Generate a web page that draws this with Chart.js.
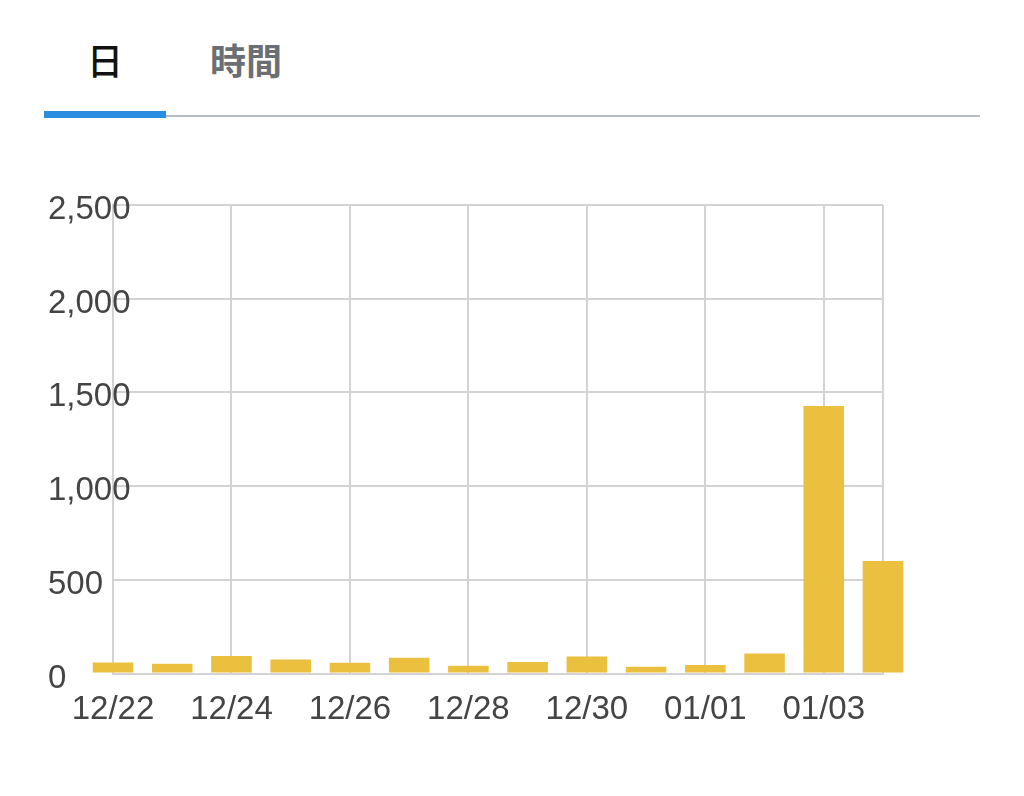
<!DOCTYPE html>
<html>
<head>
<meta charset="utf-8">
<script src="https://cdn.jsdelivr.net/npm/chart.js@4"></script>
<style>
  html, body { margin: 0; padding: 0; background: #ffffff; }
  body { width: 1024px; height: 796px; position: relative; overflow: hidden; }
  .tab { position: absolute; width: 120px; text-align: center; font-family: "Noto Sans CJK JP", sans-serif; font-size: 36px; line-height: 40px; top: 39px; }
  #tabDay { left: 45px; color: #111111; font-weight: 500; }
  #tabHour { left: 186px; color: #6b6f73; font-weight: 700; }
  #tabActive { position: absolute; left: 44px; top: 111px; width: 122px; height: 7px; background: #2a8ee0; }
  #tabLine { position: absolute; left: 166px; top: 115px; width: 814px; height: 2px; background: #b9bdc5; }
  #wrap { position: absolute; left: 0; top: 0; width: 1024px; height: 796px; }
</style>
</head>
<body>
<div class="tab" id="tabDay">日</div>
<div class="tab" id="tabHour">時間</div>
<div id="tabActive"></div>
<div id="tabLine"></div>
<div id="wrap"><canvas id="chart"></canvas></div>
<script>
const categories = ['12/22','12/23','12/24','12/25','12/26','12/27','12/28','12/29','12/30','12/31','01/01','01/02','01/03','01/04'];
const views = [59, 52, 93, 75, 57, 84, 41, 61, 91, 36, 46, 107, 1428, 600];
const yTicks = [0, 500, 1000, 1500, 2000, 2500];

const gridGray = '#d3d3d3';
const labelFont = { family: '"Liberation Sans", Arial, sans-serif', size: 33 };

new Chart(document.getElementById('chart'), {
  type: 'bar',
  data: {
    labels: categories,
    datasets: [{
      data: views,
      backgroundColor: '#ebc03f',
      borderWidth: 0,
      barPercentage: 0.685,
      categoryPercentage: 1,
      clip: false
    }]
  },
  options: {
    responsive: true,
    maintainAspectRatio: false,
    animation: false,
    layout: { padding: { left: 48, right: 141, top: 205, bottom: 62.5 } },
    plugins: { legend: { display: false }, tooltip: { enabled: false } },
    scales: {
      x: {
        type: 'category',
        offset: false,
        grid: {
          offset: false,
          drawTicks: false,
          lineWidth: 2,
          color: (ctx) => (ctx.index % 2 === 0 || ctx.index === categories.length - 1) ? gridGray : 'rgba(0,0,0,0)'
        },
        border: { display: true, color: gridGray, width: 2 },
        ticks: {
          autoSkip: false,
          maxRotation: 0,
          minRotation: 0,
          padding: 17,
          color: '#444444',
          font: labelFont,
          callback: (val, idx) => idx % 2 === 0 ? categories[idx] : ''
        },
        afterFit: (s) => { s.height = 60; }
      },
      y: {
        min: 0,
        max: 2500,
        afterBuildTicks: (s) => { s.ticks = yTicks.map(v => ({ value: v })); },
        grid: { drawTicks: false, lineWidth: 2, color: gridGray },
        border: { display: true, color: gridGray, width: 2 },
        ticks: {
          mirror: true,
          crossAlign: 'near',
          padding: -65,
          labelOffset: 5,
          color: '#444444',
          font: labelFont,
          callback: (v) => Number(v).toLocaleString('en-US')
        },
        afterFit: (s) => { s.width = 65; }
      }
    }
  }
});
</script>
</body>
</html>
